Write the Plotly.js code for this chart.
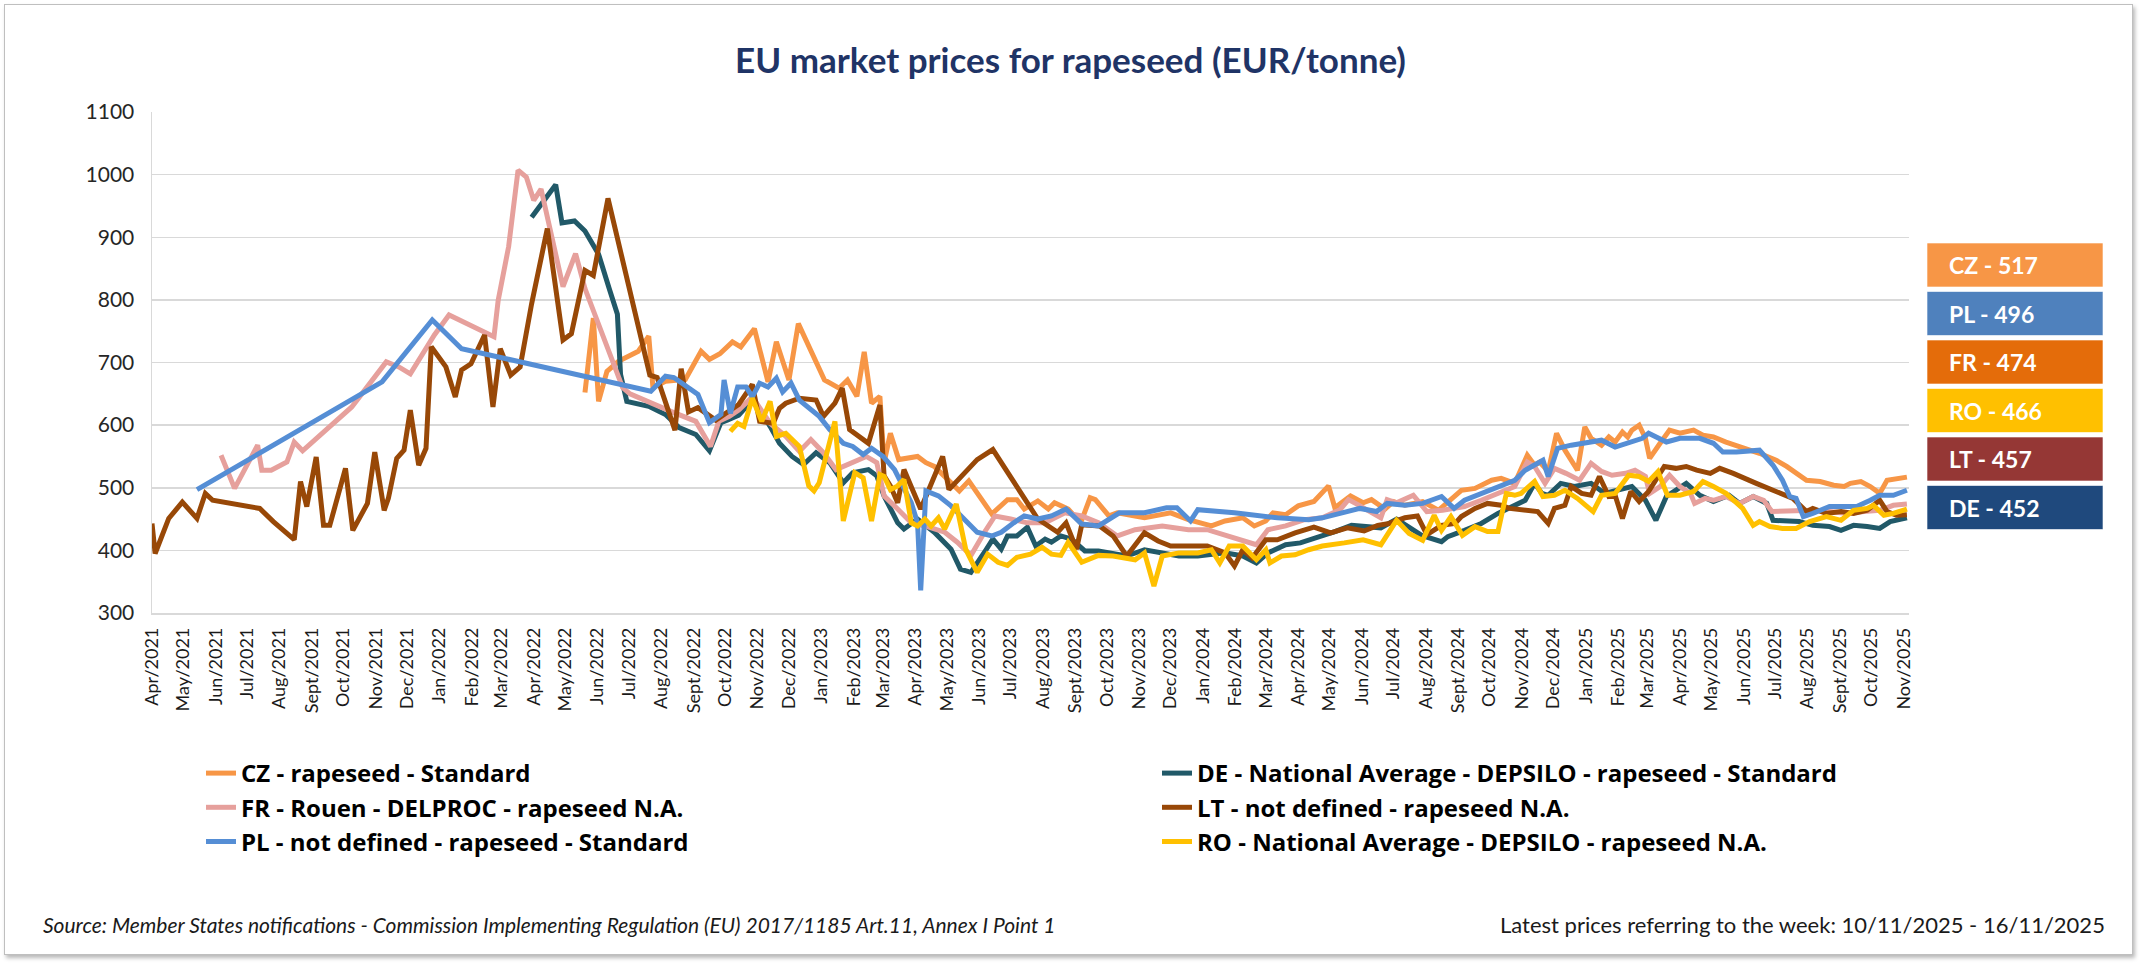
<!DOCTYPE html>
<html><head><meta charset="utf-8">
<script src="https://cdn.plot.ly/plotly-3.0.1.min.js"></script>
<style>
html,body{margin:0;padding:0;background:#fff;}
#wrap{position:relative;width:2141px;height:964px;overflow:hidden;}
#chart{width:2141px;height:964px;}
#frame{position:absolute;left:4px;top:4px;width:2127px;height:949px;border:1.5px solid #BFBFBF;box-shadow:2px 3px 4px rgba(0,0,0,0.28);pointer-events:none;}
</style></head><body>
<div id="wrap"><div id="chart"></div><div id="frame"></div></div>
<script>
// ---------------- DATA ----------------
const seriesNames = [
  'CZ - rapeseed - Standard',
  'DE - National Average - DEPSILO - rapeseed - Standard',
  'FR - Rouen - DELPROC - rapeseed N.A.',
  'LT - not defined - rapeseed N.A.',
  'PL - not defined - rapeseed - Standard',
  'RO - National Average - DEPSILO - rapeseed N.A.'
];

const czDates = [
'2022-05-24','2022-06-01','2022-06-06','2022-06-14','2022-06-25','2022-07-14','2022-07-24','2022-07-28','2022-08-09','2022-08-28',
'2022-09-12','2022-09-20','2022-09-30','2022-10-12','2022-10-20','2022-11-02','2022-11-15','2022-11-23','2022-12-05','2022-12-14',
'2023-01-08','2023-01-22','2023-01-30','2023-02-08','2023-02-15','2023-02-22','2023-03-02','2023-03-06','2023-03-12','2023-03-20',
'2023-04-07','2023-04-15','2023-04-23','2023-05-09','2023-05-17','2023-05-26','2023-06-05','2023-06-17','2023-07-02','2023-07-11',
'2023-07-18','2023-07-31','2023-08-10','2023-08-16','2023-08-29','2023-09-10','2023-09-19','2023-09-24','2023-10-07','2023-10-15',
'2023-11-01','2023-11-10','2023-12-05','2023-12-22','2024-01-13','2024-01-26','2024-02-12','2024-02-23','2024-03-05','2024-03-12',
'2024-03-24','2024-04-05','2024-04-20','2024-05-04','2024-05-10','2024-05-25','2024-06-06','2024-06-14','2024-06-27','2024-07-05',
'2024-07-16','2024-08-02','2024-08-17','2024-08-26','2024-09-08','2024-09-21','2024-10-07','2024-10-16','2024-10-29','2024-11-10',
'2024-11-17','2024-11-22','2024-11-30','2024-12-08','2024-12-16','2024-12-28','2025-01-04','2025-01-10','2025-01-20','2025-01-27',
'2025-02-02','2025-02-09','2025-02-14','2025-02-18','2025-02-25','2025-03-03','2025-03-07','2025-03-17','2025-03-26','2025-04-05',
'2025-04-18','2025-04-27','2025-05-07','2025-05-19','2025-06-08','2025-06-20','2025-07-06','2025-07-16','2025-08-04','2025-08-17',
'2025-08-30','2025-09-09','2025-09-15','2025-09-25','2025-10-04','2025-10-13','2025-10-20','2025-10-29','2025-11-08'];
const czValues = [
652,771,638,686,702,718,742,660,670,673,
718,705,714,733,725,754,669,733,672,762,
672,659,672,646,717,635,646,540,587,545,
550,540,534,508,495,511,487,458,481,481,
466,479,466,476,466,444,484,481,455,460,
455,452,460,449,439,447,452,439,447,460,
457,471,478,503,468,487,476,481,466,478,
472,478,464,478,496,499,512,515,507,552,
536,541,526,587,560,528,597,579,568,581,
573,589,581,592,600,579,547,571,592,587,
592,584,581,573,563,555,544,534,512,510,
504,502,507,510,502,491,512,515,517];

const deDates = [
'2022-04-03','2022-04-26','2022-05-02','2022-05-14','2022-05-24','2022-06-06','2022-06-16','2022-06-24','2022-06-27','2022-07-03',
'2022-07-24','2022-08-09','2022-08-22','2022-09-07','2022-09-20','2022-10-01','2022-10-07','2022-10-18','2022-10-31','2022-11-07',
'2022-11-17','2022-11-26','2022-12-08','2022-12-19','2022-12-31','2023-01-13','2023-01-26','2023-02-04','2023-02-19','2023-02-27',
'2023-03-06','2023-03-19','2023-03-25','2023-04-07','2023-04-23','2023-05-09','2023-05-18','2023-05-28','2023-06-10','2023-06-18',
'2023-06-26','2023-07-02','2023-07-11','2023-07-21','2023-07-29','2023-08-07','2023-08-13','2023-08-22','2023-09-01','2023-09-14',
'2023-09-27','2023-10-24','2023-11-10','2023-11-27','2023-12-13','2023-12-31','2024-01-26','2024-02-12','2024-02-25','2024-03-07',
'2024-03-24','2024-04-07','2024-04-17','2024-04-28','2024-05-10','2024-05-26','2024-06-13','2024-06-23','2024-07-08','2024-07-24',
'2024-08-01','2024-08-20','2024-08-26','2024-09-11','2024-09-27','2024-10-13','2024-10-29','2024-11-08','2024-11-17','2024-11-24',
'2024-11-30','2024-12-12','2024-12-25','2025-01-10','2025-01-23','2025-02-06','2025-02-18','2025-03-03','2025-03-13','2025-03-23',
'2025-04-01','2025-04-11','2025-04-24','2025-05-07','2025-05-22','2025-06-01','2025-06-14','2025-06-27','2025-07-03','2025-07-16',
'2025-07-28','2025-08-10','2025-08-26','2025-09-06','2025-09-18','2025-10-01','2025-10-13','2025-10-23','2025-11-08'];
const deValues = [
932,984,923,926,910,873,819,777,681,638,
630,617,596,585,559,604,608,616,640,625,
598,571,550,537,556,540,508,524,529,519,
487,444,434,450,429,402,370,365,397,418,
402,423,423,437,407,418,413,423,418,399,
399,391,401,396,391,391,396,391,380,396,
409,412,417,424,430,440,438,436,450,432,
424,414,422,432,443,459,472,480,507,491,
488,507,502,507,491,496,502,480,448,486,
496,507,488,478,488,475,486,475,448,448,
446,440,438,432,440,438,435,446,452];

const frDates = [
'2021-06-10','2021-06-23','2021-07-15','2021-07-19','2021-07-28','2021-08-12','2021-08-19','2021-08-27','2021-10-13','2021-11-15',
'2021-11-27','2021-12-08','2021-12-31','2022-01-14','2022-02-26','2022-03-02','2022-03-12','2022-03-21','2022-03-29','2022-04-05',
'2022-04-12','2022-05-03','2022-05-15','2022-05-24','2022-06-29','2022-07-06','2022-08-14','2022-09-07','2022-09-21','2022-09-29',
'2022-10-09','2022-10-18','2022-10-31','2022-11-17','2022-12-02','2022-12-15','2022-12-26','2023-01-07','2023-01-19','2023-02-04',
'2023-02-17','2023-02-27','2023-03-06','2023-03-19','2023-04-01','2023-04-14','2023-05-03','2023-05-15','2023-05-28','2023-06-10',
'2023-06-20','2023-07-05','2023-07-21','2023-08-07','2023-08-26','2023-09-11','2023-09-27','2023-10-15','2023-11-01','2023-11-27',
'2023-12-22','2024-01-09','2024-02-12','2024-02-25','2024-03-07','2024-03-24','2024-04-11','2024-04-28','2024-05-15','2024-05-23',
'2024-06-01','2024-06-10','2024-06-23','2024-06-29','2024-07-08','2024-07-24','2024-08-06','2024-08-21','2024-09-11','2024-09-27',
'2024-10-13','2024-10-29','2024-11-10','2024-11-17','2024-11-27','2024-12-06','2024-12-17','2024-12-30','2025-01-10','2025-01-20',
'2025-01-30','2025-02-12','2025-02-21','2025-03-03','2025-03-07','2025-03-17','2025-03-26','2025-04-05','2025-04-15','2025-04-19',
'2025-04-29','2025-05-07','2025-05-19','2025-06-01','2025-06-14','2025-06-24','2025-07-02','2025-07-25','2025-08-10','2025-08-26',
'2025-09-12','2025-09-28','2025-10-13','2025-10-26','2025-11-08'];
const frValues = [
552,499,568,528,528,541,573,559,629,701,
693,682,744,776,741,799,885,1007,996,959,
977,821,874,818,660,650,622,606,566,606,
614,624,645,603,582,558,577,556,529,540,
550,540,487,466,444,439,429,413,392,429,
455,450,444,444,460,455,444,423,433,439,
433,433,417,409,433,439,449,452,465,481,
473,465,452,481,476,488,462,464,470,480,
491,502,541,534,507,531,523,512,539,526,
520,523,528,518,491,502,520,502,491,475,
483,480,486,475,486,480,462,464,464,462,
459,462,464,472,474];

const ltDates = [
'2021-04-05','2021-04-08','2021-04-21','2021-05-04','2021-05-18','2021-05-26','2021-06-02','2021-07-17','2021-07-30','2021-08-19',
'2021-08-25','2021-08-31','2021-09-09','2021-09-16','2021-09-22','2021-10-07','2021-10-14','2021-10-28','2021-11-04','2021-11-13',
'2021-11-17','2021-11-25','2021-12-02','2021-12-08','2021-12-16','2021-12-23','2021-12-28','2022-01-11','2022-01-20','2022-01-26',
'2022-02-04','2022-02-17','2022-02-25','2022-03-04','2022-03-14','2022-03-23','2022-04-03','2022-04-18','2022-05-03','2022-05-11',
'2022-05-24','2022-06-01','2022-06-15','2022-07-25','2022-08-01','2022-08-18','2022-08-24','2022-08-31','2022-09-09','2022-09-26',
'2022-10-18','2022-10-31','2022-11-07','2022-11-20','2022-11-26','2022-12-02','2022-12-15','2022-12-31','2023-01-07','2023-01-18',
'2023-01-25','2023-02-01','2023-02-19','2023-03-02','2023-03-06','2023-03-12','2023-03-19','2023-03-25','2023-04-10','2023-04-20',
'2023-05-01','2023-05-07','2023-06-03','2023-06-18','2023-07-31','2023-08-19','2023-08-27','2023-09-06','2023-09-11','2023-09-28',
'2023-10-11','2023-10-24','2023-11-10','2023-11-23','2023-12-05','2023-12-22','2024-01-09','2024-01-26','2024-02-04','2024-02-12',
'2024-02-21','2024-03-05','2024-03-16','2024-04-02','2024-04-20','2024-05-06','2024-05-22','2024-06-07','2024-06-20','2024-07-01',
'2024-07-16','2024-07-28','2024-08-06','2024-08-20','2024-09-02','2024-09-08','2024-09-21','2024-10-03','2024-10-16','2024-10-24',
'2024-11-11','2024-11-20','2024-11-30','2024-12-06','2024-12-16','2024-12-22','2025-01-01','2025-01-10','2025-01-18','2025-01-27',
'2025-02-02','2025-02-09','2025-02-17','2025-02-25','2025-03-06','2025-03-13','2025-03-21','2025-04-01','2025-04-11','2025-04-21',
'2025-05-04','2025-05-13','2025-05-26','2025-06-17','2025-07-09','2025-07-22','2025-08-04','2025-08-10','2025-08-23','2025-09-06',
'2025-09-18','2025-10-01','2025-10-13','2025-10-20','2025-10-29','2025-11-08'];
const ltValues = [
443,395,451,477,451,491,480,467,446,417,
510,470,549,440,440,531,432,475,557,464,
483,547,560,624,536,563,725,693,645,688,
698,744,629,722,680,693,794,914,736,746,
847,839,962,680,676,592,690,621,628,608,
633,665,606,603,627,635,643,640,614,635,
659,593,571,632,519,503,476,529,466,508,
550,497,545,561,450,429,444,402,441,439,
423,391,428,415,407,407,407,396,375,401,
388,417,417,428,437,428,436,431,440,443,
452,455,425,440,443,454,467,475,472,467,
464,462,443,467,472,502,491,488,518,486,
488,451,494,478,494,512,534,531,534,528,
523,531,523,507,491,483,462,467,459,462,
459,464,480,462,456,457];

const plDates = [
'2021-05-18','2021-11-11','2021-12-29','2022-01-26','2022-07-26','2022-08-09','2022-08-17','2022-09-09','2022-09-20','2022-10-01',
'2022-10-04','2022-10-10','2022-10-17','2022-10-25','2022-10-31','2022-11-07','2022-11-15','2022-11-23','2022-11-29','2022-12-07',
'2022-12-15','2023-01-03','2023-01-13','2023-01-26','2023-02-04','2023-02-14','2023-02-22','2023-03-05','2023-03-16','2023-03-24',
'2023-04-01','2023-04-07','2023-04-10','2023-04-15','2023-04-27','2023-05-09','2023-05-21','2023-06-03','2023-06-17','2023-06-26',
'2023-07-08','2023-07-18','2023-07-31','2023-08-13','2023-08-27','2023-09-11','2023-09-27','2023-10-11','2023-10-17','2023-11-10',
'2023-12-01','2023-12-11','2023-12-24','2023-12-31','2024-02-04','2024-03-16','2024-04-15','2024-04-28','2024-05-15','2024-06-03',
'2024-06-19','2024-06-29','2024-07-16','2024-08-02','2024-08-20','2024-09-01','2024-09-11','2024-09-27','2024-10-13','2024-10-29',
'2024-11-08','2024-11-17','2024-11-25','2024-11-30','2024-12-09','2024-12-22','2025-01-07','2025-01-20','2025-02-02','2025-02-15',
'2025-02-28','2025-03-06','2025-03-10','2025-03-23','2025-04-05','2025-04-24','2025-05-07','2025-05-16','2025-05-29','2025-06-20',
'2025-07-03','2025-07-12','2025-07-19','2025-07-25','2025-08-01','2025-08-10','2025-08-26','2025-09-12','2025-09-21','2025-10-04',
'2025-10-13','2025-10-26','2025-11-08'];
const plValues = [
497,669,768,722,654,678,676,649,604,617,
672,619,661,661,645,667,661,675,653,667,
640,614,593,571,566,553,563,550,529,503,
476,444,336,495,487,471,450,429,423,429,
444,455,450,455,466,442,439,455,460,460,
468,468,447,465,460,452,449,452,460,467,
462,475,472,475,486,467,480,491,502,512,
528,536,544,518,563,568,573,576,565,573,
579,587,584,573,579,579,571,557,557,560,
536,512,486,483,454,459,470,470,470,480,
488,488,496];

const roDates = [
'2022-10-10','2022-10-17','2022-10-23','2022-10-31','2022-11-09','2022-11-17','2022-11-23','2022-12-02','2022-12-15','2022-12-24',
'2022-12-29','2023-01-03','2023-01-18','2023-01-26','2023-02-06','2023-02-14','2023-02-22','2023-03-02','2023-03-06','2023-03-12',
'2023-03-19','2023-03-25','2023-04-01','2023-04-07','2023-04-14','2023-04-20','2023-04-27','2023-05-03','2023-05-14','2023-05-23',
'2023-06-03','2023-06-13','2023-06-23','2023-07-02','2023-07-11','2023-07-24','2023-08-04','2023-08-13','2023-08-22','2023-08-29',
'2023-09-11','2023-09-27','2023-10-11','2023-11-01','2023-11-10','2023-11-19','2023-11-27','2023-12-13','2023-12-31','2024-01-13',
'2024-01-21','2024-01-30','2024-02-12','2024-02-25','2024-03-05','2024-03-09','2024-03-20','2024-04-02','2024-04-15','2024-04-28',
'2024-05-19','2024-06-06','2024-06-23','2024-07-08','2024-07-20','2024-08-02','2024-08-13','2024-08-20','2024-08-29','2024-09-09',
'2024-09-21','2024-10-03','2024-10-13','2024-10-21','2024-10-29','2024-11-04','2024-11-17','2024-11-25','2024-12-06','2024-12-16',
'2024-12-28','2025-01-12','2025-01-20','2025-02-02','2025-02-15','2025-02-25','2025-03-06','2025-03-15','2025-03-24','2025-04-05',
'2025-04-18','2025-04-27','2025-05-07','2025-05-19','2025-06-04','2025-06-14','2025-06-20','2025-06-30','2025-07-12','2025-07-25',
'2025-08-07','2025-08-23','2025-09-06','2025-09-18','2025-10-01','2025-10-07','2025-10-17','2025-10-26','2025-11-08'];
const roValues = [
590,603,598,643,606,638,582,587,566,503,
495,508,606,447,524,516,447,521,518,497,
503,513,444,439,450,439,452,434,474,402,
365,394,381,376,389,394,405,394,392,413,
381,392,391,385,396,343,391,396,396,401,
380,407,407,385,401,380,391,393,401,407,
412,417,409,448,427,416,456,432,454,424,
438,430,430,491,488,491,510,486,488,496,
483,462,488,491,520,518,510,526,488,488,
494,510,502,491,467,440,446,438,435,435,
446,454,448,464,467,472,456,459,466];

// latest-price boxes
const boxLabels = ['CZ','PL','FR','RO','LT','DE'];
const boxValues = [517,496,474,466,457,452];
const boxColors = ['#F79646','#4F81BD','#E46C0A','#FFC000','#953735','#1F497D'];

// tick labels
const monthNames = ['Jan','Feb','Mar','Apr','May','Jun','Jul','Aug','Sept','Oct','Nov','Dec'];
const yTicks = [300,400,500,600,700,800,900,1000,1100];

// ---------------- BUILD ----------------
const W = 2141, H = 964;
const M = {l:152, r:232, t:112, b:351};
const PW = W - M.l - M.r, PH = H - M.t - M.b;
const px = x => (x - M.l) / PW;
const py = y => (H - M.b - y) / PH;

const tickVals = [], tickText = [];
{
  let y = 2021, m = 3;
  while (y < 2025 || (y === 2025 && m <= 10)) {
    tickVals.push(y + '-' + String(m + 1).padStart(2, '0') + '-05');
    tickText.push(monthNames[m] + '/' + y);
    m++; if (m > 11) { m = 0; y++; }
  }
}

const lineColors = ['#F79646','#215968','#E6A09C','#984807','#558ED5','#FFC000'];
const legendOf = ['legend','legend2','legend','legend2','legend','legend2'];
const allDates = [czDates, deDates, frDates, ltDates, plDates, roDates];
const allValues = [czValues, deValues, frValues, ltValues, plValues, roValues];

const traces = seriesNames.map((name, i) => {
  const n = Math.min(allDates[i].length, allValues[i].length);
  return {
    type: 'scatter', mode: 'lines', name: name, legend: legendOf[i],
    x: allDates[i].slice(0, n), y: allValues[i].slice(0, n),
    line: {color: lineColors[i], width: 5},
    hoverinfo: 'x+y+name'
  };
});

const FONT = 'Lato, "Open Sans", sans-serif';
const LEGFONT = {family: '"Open Sans", Lato, sans-serif', size: 24, color: '#000000', weight: 700};

const shapes = [], annotations = [];
boxLabels.forEach((lab, i) => {
  const top = 243 + i * 48.5, bot = top + 44;
  shapes.push({type:'rect', xref:'paper', yref:'paper', x0:px(1927), x1:px(2103), y0:py(bot), y1:py(top),
    fillcolor: boxColors[i], line:{width:1, color:'rgba(255,255,255,0.6)'}, layer:'above'});
  annotations.push({xref:'paper', yref:'paper', x:px(1947), y:py((top + bot) / 2), xanchor:'left', yanchor:'middle',
    text: lab + ' - ' + boxValues[i], showarrow:false,
    font:{family:FONT, size:23, color:'#FFFFFF', weight:700}});
});
annotations.push({xref:'paper', yref:'paper', x:px(41), y:py(924), xanchor:'left', yanchor:'middle', showarrow:false,
  text:'Source: Member States notifications - Commission Implementing Regulation (EU) 2017/1185 Art.11, Annex I Point 1',
  font:{family:FONT, size:21, color:'#1A1A1A', style:'italic'}});
annotations.push({xref:'paper', yref:'paper', x:px(2107), y:py(924), xanchor:'right', yanchor:'middle', showarrow:false,
  text:'Latest prices referring to the week: 10/11/2025 - 16/11/2025',
  font:{family:FONT, size:22, color:'#1A1A1A'}});

const layout = {
  width: W, height: H, margin: M,
  paper_bgcolor: '#FFFFFF', plot_bgcolor: '#FFFFFF',
  font: {family: FONT, color: '#262626'},
  title: {text: 'EU market prices for rapeseed (EUR/tonne)', x: 0.5, xref: 'container', xanchor: 'center',
          y: 1 - 61 / H, yref: 'container', yanchor: 'middle',
          font: {family: FONT, size: 35, color: '#1F3466', weight: 700}},
  xaxis: {type: 'date', range: ['2021-04-05', '2025-11-10'], tickmode: 'array', tickvals: tickVals, ticktext: tickText,
          tickangle: -90, tickfont: {family: FONT, size: 18, color: '#1A1A1A'}, showgrid: false, zeroline: false,
          showline: true, linecolor: '#D9D9D9', linewidth: 1.5, ticks: '', ticklabelstandoff: 6, fixedrange: true},
  yaxis: {range: [300, 1100], tickmode: 'array', tickvals: yTicks, showgrid: true, gridcolor: '#D9D9D9', gridwidth: 1.5,
          zeroline: false, showline: true, linecolor: '#D9D9D9', linewidth: 1.5, ticks: '', ticklabelstandoff: 12,
          tickfont: {family: FONT, size: 21, color: '#262626'}, fixedrange: true},
  showlegend: true,
  legend: {orientation: 'v', x: px(201), y: py(751), xanchor: 'left', yanchor: 'top', traceorder: 'normal',
           font: LEGFONT, bgcolor: 'rgba(0,0,0,0)', itemwidth: 30},
  legend2: {orientation: 'v', x: px(1157), y: py(751), xanchor: 'left', yanchor: 'top', traceorder: 'normal',
           font: LEGFONT, bgcolor: 'rgba(0,0,0,0)', itemwidth: 30},
  shapes: shapes, annotations: annotations
};

Plotly.newPlot('chart', traces, layout, {displayModeBar: false, staticPlot: true});
</script></body></html>
